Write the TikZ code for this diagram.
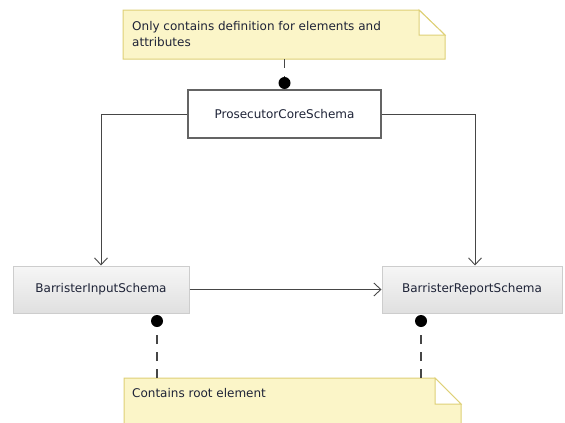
\documentclass[tikz,border=0pt]{standalone}
\usepackage{fontspec}
\setmainfont{DejaVu Sans}
\usetikzlibrary{arrows.meta}
\definecolor{notefill}{RGB}{251,245,200}
\definecolor{noteline}{RGB}{222,208,118}
\definecolor{boxtop}{RGB}{246,246,246}
\definecolor{boxbot}{RGB}{224,224,224}
\definecolor{boxline}{RGB}{205,205,205}
\definecolor{wirec}{RGB}{70,70,70}
\definecolor{corec}{RGB}{100,100,100}
\definecolor{txt}{RGB}{30,35,55}
\begin{document}
\begin{tikzpicture}[x=1pt,y=-1pt,
  every node/.style={font=\fontsize{12}{16.5}\selectfont, text=txt},
  schema/.style={draw=boxline, line width=1pt, top color=boxtop, bottom color=boxbot, minimum height=47pt, inner sep=0pt},
  corebox/.style={draw=corec, line width=1.4pt, fill=white, minimum width=193pt, minimum height=48pt, inner sep=0pt},
  wire/.style={draw=wirec, line width=0.9pt},
  arr/.style={wire, -{Straight Barb[length=7pt,width=13pt,line width=0.9pt]}},
  dot/.style={circle, fill=black, minimum size=12pt, inner sep=0pt},
  dashwire/.style={draw=wirec, line width=1.1pt, dash pattern=on 9pt off 8pt},
  noteshape/.style={fill=notefill, draw=noteline, line width=1pt}]
\useasboundingbox (0,0) rectangle (565,423);
\clip (0,0) rectangle (565,423);
% top note
\path[noteshape] (123,10) -- (419,10) -- (445,35) -- (445,59) -- (123,59) -- cycle;
\path[noteshape, fill=white] (419,10) -- (419,35) -- (445,35) -- cycle;
\node[anchor=north west, align=left, inner sep=0pt] (n1) at (132,21) {Only contains definition for elements and\\attributes};
\coordinate (n1b) at (284.5,59);
% bottom note
\path[noteshape] (124,378) -- (435,378) -- (461,404) -- (461,440) -- (124,440) -- cycle;
\path[noteshape, fill=white] (435,378) -- (435,404) -- (461,404) -- cycle;
\node[anchor=base west, inner sep=0pt] (n2) at (132,397) {Contains root element};
\coordinate (n2a) at (157,378);
\coordinate (n2b) at (421,378);
% boxes
\node[corebox] (core) at (284.5,114) {ProsecutorCoreSchema};
\node[schema, minimum width=176pt] (input) at (101,289.5) {BarristerInputSchema};
\node[schema, minimum width=180pt] (report) at (472,289.5) {BarristerReportSchema};
% dots
\node[dot] (d1) at (284.5,83) {};
\node[dot] (d2) at (157,321) {};
\node[dot] (d3) at (421,321) {};
% connectors
\draw[dashwire] (n1b) -- (d1);
\draw[dashwire] (n2a) -- (d2);
\draw[dashwire] (n2b) -- (d3);
\draw[arr] (core.west) -| (input.north);
\draw[arr] (core.east) -| ([xshift=3pt]report.north);
\draw[arr] (input.east) -- (report.west);
\end{tikzpicture}
\end{document}
